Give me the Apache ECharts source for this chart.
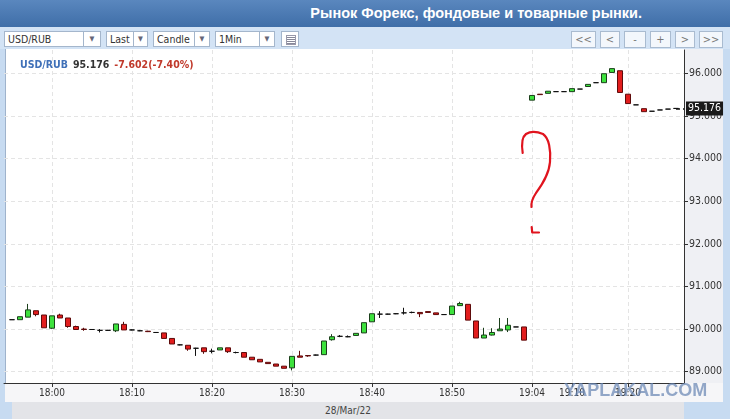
<!DOCTYPE html>
<html><head><meta charset="utf-8">
<script src="https://cdn.jsdelivr.net/npm/echarts@6/dist/echarts.min.js"></script>
<style>
html,body{margin:0;padding:0;width:730px;height:419px;overflow:hidden;background:#c7dbf1;font-family:'DejaVu Sans Condensed','DejaVu Sans',sans-serif;}
#hdr{position:absolute;left:0;top:0;width:730px;height:27px;background:linear-gradient(#5a87be,#3f6ea8);}
#hdr span{position:absolute;right:88px;top:5px;color:#fff;font:bold 14.5px 'Liberation Sans',Arial,sans-serif;white-space:nowrap;}
#tb{position:absolute;left:0;top:27px;width:730px;height:22px;background:#d3e3f5;}
.sel{position:absolute;top:4px;height:16px;background:#fff;border:1px solid #a4b6cc;box-sizing:border-box;font-size:10.5px;color:#333;line-height:14px;padding-left:3px;font-family:'DejaVu Sans Condensed','DejaVu Sans',sans-serif;}
.sel .ar{position:absolute;right:0;top:0;bottom:0;border-left:1px solid #a4b6cc;font-size:7px;color:#667;text-align:center;line-height:14px;padding:0;}
.btn{position:absolute;top:4px;height:17px;box-sizing:border-box;background:#f3f7fc;border:1px solid #a9bbd0;color:#777;font-size:11px;line-height:15px;text-align:center;}
#plot{position:absolute;left:5px;top:49px;width:679px;height:334px;background:#fff;border-left:1px solid #9fb3cc;box-sizing:border-box;}
#yarea{position:absolute;left:684px;top:49px;width:39px;height:353px;background:#eff0f4;}
#xarea{position:absolute;left:5px;top:383px;width:718px;height:19px;background:#f6f6f8;}
#date{position:absolute;left:12px;top:402px;width:672px;height:17px;background:#e3e4e8;text-align:center;font-size:10px;color:#444;line-height:17px;}
#chart{position:absolute;left:0;top:0;width:730px;height:419px;}
#qm{position:absolute;left:0;top:0;width:730px;height:419px;pointer-events:none;}
</style></head>
<body>
<div id="hdr"><span>Рынок Форекс, фондовые и товарные рынки.</span></div>
<div id="tb">
  <div class="sel" style="left:4px;width:97px;">USD/RUB<div class="ar" style="width:16px;">▼</div></div>
  <div class="sel" style="left:106px;width:42px;">Last<div class="ar" style="width:13px;">▼</div></div>
  <div class="sel" style="left:153px;width:57px;">Candle<div class="ar" style="width:14px;">▼</div></div>
  <div class="sel" style="left:215px;width:60px;">1Min<div class="ar" style="width:14px;">▼</div></div>
  <div class="sel" style="left:281px;width:18px;padding:0;"><div style="position:absolute;left:4px;top:3px;width:8px;height:8px;background:repeating-linear-gradient(#fff 0 1px,#889 1px 2px);border:1px solid #99a;"></div></div>
  <div class="btn" style="left:571px;width:25px;">&lt;&lt;</div>
  <div class="btn" style="left:600px;width:20px;">&lt;</div>
  <div class="btn" style="left:624px;width:22px;">-</div>
  <div class="btn" style="left:650px;width:21px;">+</div>
  <div class="btn" style="left:675px;width:20px;">&gt;</div>
  <div class="btn" style="left:699px;width:24px;">&gt;&gt;</div>
</div>
<div id="plot"></div>
<div id="yarea"></div>
<div id="xarea"></div>
<div id="date">28/Mar/22</div>
<div id="chart"></div>
<svg id="qm" width="730" height="419"><path d="M522.7,153 C521.5,145 522,137 526,134 C531,131 538,132 543,134 C549,138 551,150 550,162 C549,175 541,186 536,193 C532,199 531,203 531.5,207 M531.7,227 L532.2,232.5 L539,232.5" fill="none" stroke="#e0141e" stroke-width="2.2" stroke-linecap="round" stroke-linejoin="round"/></svg>
<script>
// ---- data ----
const symbol = 'USD/RUB';
const lastPrice = 95.176;
const changeText = '-7.602(-7.40%)';
const times = [
 '17:55','17:56','17:57','17:58','17:59','18:00','18:01','18:02','18:03','18:04',
 '18:05','18:06','18:07','18:08','18:09','18:10','18:11','18:12','18:13','18:14',
 '18:15','18:16','18:17','18:18','18:19','18:20','18:21','18:22','18:23','18:24',
 '18:25','18:26','18:27','18:28','18:29','18:30','18:31','18:32','18:33','18:34',
 '18:35','18:36','18:37','18:38','18:39','18:40','18:41','18:42','18:43','18:44',
 '18:45','18:46','18:47','18:48','18:49','18:50','18:51','18:52','18:53','18:54',
 '18:55','18:56','18:57','18:58','18:59',
 '19:04','19:05','19:06','19:07','19:08','19:10','19:11','19:12','19:14','19:15',
 '19:16','19:17','19:20','19:21','19:22','19:23','19:24','19:25','19:26'
];
const openVals = [
 90.22,90.22,90.28,90.43,90.33,90.02,90.33,90.26,90.06,90.00,
 89.99,89.97,89.97,89.96,90.11,89.98,89.96,89.95,89.92,89.91,
 89.78,89.63,89.62,89.55,89.56,89.48,89.51,89.56,89.45,89.45,
 89.34,89.29,89.22,89.18,89.13,89.09,89.37,89.38,89.39,89.40,
 89.75,89.83,89.82,89.85,89.91,90.17,90.35,90.35,90.36,90.38,
 90.39,90.39,90.41,90.38,90.34,90.34,90.55,90.58,90.19,89.79,
 89.86,89.96,89.98,90.05,90.05,
 95.37,95.51,95.53,95.57,95.57,95.57,95.63,95.69,95.78,95.78,
 96.02,96.06,95.51,95.26,95.17,95.11,95.14,95.16,95.176
];
const closeVals = [
 90.22,90.29,90.45,90.34,90.03,90.31,90.26,90.06,89.99,89.99,
 89.99,89.97,89.97,90.12,89.98,89.98,89.96,89.94,89.92,89.78,
 89.65,89.63,89.53,89.55,89.47,89.48,89.56,89.47,89.45,89.34,
 89.28,89.23,89.19,89.13,89.08,89.36,89.34,89.37,89.39,89.72,
 89.82,89.83,89.82,89.90,90.15,90.36,90.35,90.35,90.36,90.38,
 90.39,90.36,90.39,90.34,90.34,90.54,90.60,90.21,89.79,89.86,
 89.92,90.00,90.09,90.05,89.74,
 95.48,95.50,95.58,95.57,95.57,95.64,95.63,95.74,95.78,95.99,
 96.11,95.55,95.29,95.26,95.10,95.11,95.14,95.16,95.176
];
const lowVals = [
 90.22,90.22,90.28,90.30,90.03,90.00,90.26,90.03,89.99,89.96,
 89.98,89.92,89.96,89.93,89.98,89.97,89.95,89.93,89.91,89.78,
 89.65,89.62,89.49,89.37,89.42,89.43,89.51,89.44,89.43,89.34,
 89.28,89.23,89.19,89.13,89.08,89.03,89.34,89.35,89.38,89.40,
 89.73,89.81,89.81,89.85,89.91,90.17,90.26,90.34,90.35,90.34,
 90.37,90.28,90.39,90.34,90.34,90.34,90.55,90.21,89.79,89.79,
 89.85,89.96,89.93,90.05,89.74,
 95.37,95.50,95.53,95.57,95.57,95.57,95.63,95.69,95.78,95.78,
 96.02,95.55,95.29,95.26,95.10,95.11,95.14,95.16,95.176
];
const highVals = [
 90.22,90.29,90.59,90.43,90.33,90.31,90.36,90.26,90.08,90.03,
 90.00,90.00,89.98,90.12,90.17,89.99,89.98,89.96,89.93,89.91,
 89.78,89.64,89.62,89.56,89.56,89.54,89.56,89.56,89.47,89.45,
 89.34,89.29,89.22,89.18,89.13,89.36,89.49,89.39,89.40,89.72,
 89.88,89.86,89.85,89.90,90.15,90.36,90.42,90.36,90.37,90.50,
 90.41,90.39,90.41,90.38,90.34,90.54,90.64,90.58,90.19,90.03,
 90.02,90.26,90.26,90.05,90.05,
 95.48,95.51,95.58,95.57,95.58,95.64,95.63,95.74,95.78,95.99,
 96.11,96.06,95.51,95.26,95.17,95.11,95.14,95.16,95.176
];
const tickLabels = ['18:00','18:10','18:20','18:30','18:40','18:50','19:04','19:10','19:20'];
const yMin = 89, yMax = 96, yStep = 1;

// ---- build ----
const categories = [''].concat(times, [' ']);
const candleData = times.map((t, i) => [t, openVals[i], closeVals[i], lowVals[i], highVals[i]]);
const showTick = (idx, val) => tickLabels.indexOf(val) >= 0;
const fontC = "'DejaVu Sans Condensed','DejaVu Sans',sans-serif";

const chart = echarts.init(document.getElementById('chart'), null, {renderer: 'canvas'});
chart.setOption({
  animation: false,
  backgroundColor: 'transparent',
  title: {
    left: 15, top: 51,
    text: '{a|' + symbol + '} {b|' + lastPrice.toFixed(3) + '} {c|' + changeText + '}',
    textStyle: { rich: {
      a: {color: '#3f70b8', fontWeight: 'bold', fontSize: 10.5, fontFamily: fontC},
      b: {color: '#333', fontWeight: 'bold', fontSize: 10.5, fontFamily: fontC},
      c: {color: '#c0392b', fontWeight: 'bold', fontSize: 10.5, fontFamily: fontC}
    }}
  },
  grid: [
    {left: 4, width: 680, top: 73.3, height: 298.4},
    {left: 4, width: 680, top: 50, bottom: 36}
  ],
  xAxis: [
    {gridIndex: 0, type: 'category', data: categories, boundaryGap: false, show: false},
    {gridIndex: 1, type: 'category', data: categories, boundaryGap: false,
     axisLine: {lineStyle: {color: '#333'}},
     axisTick: {show: true, interval: showTick, length: 4, lineStyle: {color: '#333'}},
     axisLabel: {interval: showTick, color: '#333', fontSize: 10, margin: 5, fontFamily: fontC},
     splitLine: {show: true, interval: showTick, lineStyle: {color: '#e4e4e4', type: [4, 3]}}}
  ],
  yAxis: [
    {gridIndex: 0, type: 'value', position: 'right', min: yMin, max: yMax, interval: yStep,
     axisLine: {show: false},
     axisTick: {show: true, length: 4, lineStyle: {color: '#333'}},
     axisLabel: {color: '#333', fontSize: 10.5, margin: 5, fontFamily: fontC, formatter: v => v.toFixed(3)},
     splitLine: {show: true, lineStyle: {color: '#e4e4e4', type: [4, 3]}}},
    {gridIndex: 1, type: 'value', position: 'right', min: 0, max: 1,
     axisLine: {show: true, lineStyle: {color: '#333'}},
     axisTick: {show: false}, axisLabel: {show: false}, splitLine: {show: false}}
  ],
  series: [{
    type: 'candlestick',
    xAxisIndex: 0, yAxisIndex: 0,
    data: candleData,
    encode: {x: 0, y: [1, 2, 3, 4]},
    barWidth: 6,
    clip: false,
    itemStyle: {
      color: '#3de23d', color0: '#e21d1d',
      borderColor: '#1b3f1b', borderColor0: '#5e0b0b', borderColorDoji: '#111',
      borderWidth: 1
    },
    markLine: {
      silent: true, symbol: 'none', animation: false,
      lineStyle: {color: '#111', type: [4, 3], width: 1.5},
      label: {show: true, position: 'end', distance: 2, formatter: lastPrice.toFixed(3),
              color: '#fff', backgroundColor: '#1a1a1a', padding: [2, 2, 1, 2],
              fontSize: 10.5, fontFamily: fontC},
      data: [[{coord: [times[times.length - 1], lastPrice]}, {coord: [' ', lastPrice]}]]
    }
  }],
  graphic: [
    {type: 'text', z: 100, left: 564, top: 382, silent: true,
     style: {text: 'YAPLAKAL.COM', font: "bold 18px 'Liberation Sans', Arial, sans-serif", fill: 'rgba(105,135,180,0.72)'}}
  ]
});
</script>
</body></html>
